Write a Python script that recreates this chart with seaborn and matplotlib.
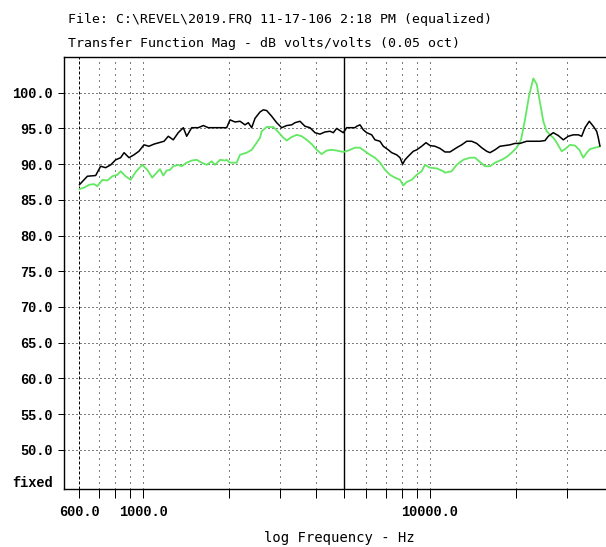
import matplotlib
matplotlib.use("Agg")
import matplotlib.pyplot as plt
from matplotlib.ticker import FixedLocator, NullFormatter
import seaborn as sns
import pandas as pd

# ---------------- data ----------------
black_freq = [600, 623, 640, 684, 712, 741, 772, 803, 836, 859, 894, 930, 968,
              1008, 1049, 1092, 1137, 1184, 1225, 1275, 1327, 1382, 1420, 1478,
              1558, 1623, 1688, 1881, 1957, 2010, 2092, 2178, 2267, 2328, 2392,
              2456, 2557, 2626, 2698, 2808, 2923, 3043, 3167, 3297, 3386, 3524,
              3668, 3818, 3975, 4138, 4307, 4483, 4604, 4731, 4897, 4988, 5126,
              5264, 5480, 5555, 5704, 5857, 6018, 6265, 6431, 6696, 6876, 7157,
              7356, 7656, 7862, 8034, 8183, 8403, 8747, 8989, 9356, 9685, 10000,
              10409, 10834, 11279, 11741, 12388, 12897, 13424, 13973, 14544,
              15138, 15760, 16183, 16844, 17536, 18251, 18998, 19778, 20587,
              21723, 22908, 24175, 25163, 25838, 26894, 27990, 29141, 30333,
              31574, 32865, 33777, 34683, 35892, 37068, 38089, 38584, 39111]
black_db = [87.1, 87.8, 88.3, 88.4, 89.7, 89.5, 89.9, 90.6, 90.9, 91.6, 90.9, 91.3, 91.8,
            92.7, 92.5, 92.8, 93.0, 93.2, 93.9, 93.4, 94.4, 95.1, 93.9, 95.1,
            95.1, 95.4, 95.1, 95.1, 95.1, 96.2, 95.9, 96.0, 95.5, 95.8, 95.1,
            96.4, 97.3, 97.6, 97.5, 96.7, 95.8, 95.1, 95.4, 95.5, 95.8, 96.0,
            95.3, 95.1, 94.4, 94.2, 94.5, 94.6, 94.4, 95.0, 94.6, 94.4, 95.1,
            95.1, 95.1, 95.3, 95.5, 94.8, 94.4, 94.1, 93.4, 93.2, 92.5, 92.0,
            91.6, 91.3, 90.9, 90.0, 90.6, 91.1, 91.8, 92.0, 92.5, 93.0, 92.6,
            92.5, 92.2, 91.7, 91.7, 92.3, 92.7, 93.2, 93.2, 92.9,
            92.3, 91.8, 91.6, 92.0, 92.5, 92.6, 92.7, 92.9, 92.9,
            93.2, 93.2, 93.2, 93.3, 93.9, 94.4, 94.0, 93.4, 93.9,
            94.1, 94.1, 93.9, 95.1, 96.0, 95.3, 94.6, 93.7, 92.5]

green_freq = [600, 623, 648, 675, 693, 722, 751, 782, 814, 836, 870, 906, 943,
              994, 1035, 1077, 1122, 1146, 1177, 1209, 1242, 1275, 1327, 1364,
              1420, 1478, 1539, 1602, 1667, 1735, 1782, 1855, 1931, 1957, 2010,
              2121, 2178, 2298, 2392, 2490, 2557, 2592, 2698, 2844, 2961, 3082,
              3167, 3297, 3432, 3573, 3719, 3871, 4030, 4194, 4366, 4545, 4731,
              4988, 5192, 5480, 5704, 5937, 6180, 6431, 6696, 6971, 7255, 7551,
              7862, 8072, 8296, 8635, 8989, 9356, 9607, 10000, 10552, 11125,
              11279, 11901, 12388, 13062, 13784, 14347, 14934, 15544, 16183,
              16844, 17775, 18501, 19262, 20049, 20754, 21429, 22127, 22908,
              23544, 24175, 24823, 25508, 26192, 26894, 27641, 28768, 29540,
              30749, 32006, 33131, 34209, 35156, 36099, 37575, 38584, 39111]
green_db = [86.5, 86.7, 87.1, 87.2, 86.9, 87.8, 87.7, 88.3, 88.5, 89.0, 88.3, 87.8, 88.9,
            89.9, 89.2, 88.1, 88.9, 89.3, 88.4, 89.1, 89.2, 89.7, 89.9, 89.7,
            90.2, 90.5, 90.6, 90.2, 89.9, 90.4, 89.9, 90.6, 90.5, 90.6, 90.2,
            90.2, 91.3, 91.6, 92.0, 93.0, 93.7, 94.6, 95.2, 95.2, 94.5, 93.7,
            93.3, 93.8, 94.1, 93.9, 93.4, 92.8, 92.0, 91.4, 91.9, 92.0, 91.9,
            91.7, 91.9, 92.3, 92.3, 91.8, 91.3, 90.9, 90.2, 89.2, 88.5, 88.1,
            87.8, 87.0, 87.5, 87.8, 88.5, 89.0, 89.9, 89.5, 89.4, 89.0,
            88.8, 89.0, 89.9, 90.6, 90.9, 90.9, 90.3, 89.7, 89.7,
            90.2, 90.6, 91.0, 91.6, 92.3, 93.4, 96.2, 99.5, 102.0,
            101.2, 98.6, 96.0, 94.6, 94.1, 93.7, 93.0, 91.8, 92.1,
            92.7, 92.6, 92.0, 90.9, 91.6, 92.1, 92.3, 92.4, 92.5]

y_ticks = [50, 55, 60, 65, 70, 75, 80, 85, 90, 95, 100]
x_major = [600, 1000, 10000]
x_major_labels = ["600.0", "1000.0", "10000.0"]
x_minor = [700, 800, 900, 2000, 3000, 4000, 5000, 6000, 7000, 8000, 9000,
           20000, 30000]

title1 = "File: C:\\REVEL\\2019.FRQ 11-17-106 2:18 PM (equalized)"
title2 = "Transfer Function Mag - dB volts/volts (0.05 oct)"
xlabel = "log Frequency - Hz"

# ---------------- figure ----------------
sns.set_style("white")
plt.rcParams["font.family"] = ["DejaVu Sans Mono", "DejaVu Sans"]

W, H = 606, 547
fig = plt.figure(figsize=(W / 100, H / 100), dpi=100)
ax = fig.add_axes([64 / W, 1 - 489 / H, (W - 64) / W, (489 - 57) / H])

px = 0.72  # one pixel in points

df_b = pd.DataFrame({"freq": black_freq, "db": black_db})
df_g = pd.DataFrame({"freq": green_freq, "db": green_db})
sns.lineplot(data=df_g, x="freq", y="db", ax=ax, color="#62e862", lw=1.3,
             estimator=None, zorder=4)
sns.lineplot(data=df_b, x="freq", y="db", ax=ax, color="black", lw=1.1,
             estimator=None, zorder=5)

ax.set_xscale("log")
ax.set_xlim(530.6, 41050)
ax.set_ylim(44.5, 105.0)

# grid lines
for y in y_ticks:
    ax.axhline(y, color="black", lw=px, ls=(0, (1, 3)), zorder=2)
for f in x_minor + [10000, 1000]:
    if f == 5000:
        ax.axvline(f, color="black", lw=1.0, ls="-", zorder=3)
    else:
        ax.axvline(f, color="black", lw=px, ls=(0, (1, 5)), zorder=2)
ax.axvline(600, color="black", lw=px, ls=(0, (3, 2)), zorder=2)

# ticks
tick_font = dict(family="Liberation Mono", weight="bold", size=9.8)
ax.set_yticks(y_ticks)
ax.set_yticklabels([f"{v:.1f}" for v in y_ticks], fontdict=tick_font)
ax.xaxis.set_major_locator(FixedLocator(x_major))
ax.set_xticklabels(x_major_labels, fontdict=tick_font)
ax.xaxis.set_minor_locator(FixedLocator(x_minor))
ax.xaxis.set_minor_formatter(NullFormatter())
ax.tick_params(axis="y", which="major", direction="out", length=4.3,
               width=px, pad=3.6, colors="black", left=True)
ax.tick_params(axis="x", which="both", direction="out", length=6.5,
               width=px, pad=5, colors="black", bottom=True)

ax.set_xlabel("")
ax.set_ylabel("")
for side in ["left", "top", "bottom"]:
    ax.spines[side].set_color("black")
    ax.spines[side].set_linewidth(1.0)
ax.spines["right"].set_visible(False)

# texts
fig.text(68 / W, 1 - 19 / H, title1, ha="left", va="center", fontsize=9.5,
         family=["DejaVu Sans Mono"], color="black")
fig.text(68 / W, 1 - 43 / H, title2, ha="left", va="center", fontsize=9.5,
         family=["DejaVu Sans Mono"], color="black")
fig.text(339 / W, 1 - 538 / H, xlabel, ha="center", va="center", fontsize=10,
         family=["DejaVu Sans Mono"], color="black")
fig.text(53 / W, 1 - 483 / H, "fixed", ha="right", va="center",
         family="Liberation Mono", weight="bold", fontsize=9.8, color="black")

fig.savefig("out.png", dpi=100)
